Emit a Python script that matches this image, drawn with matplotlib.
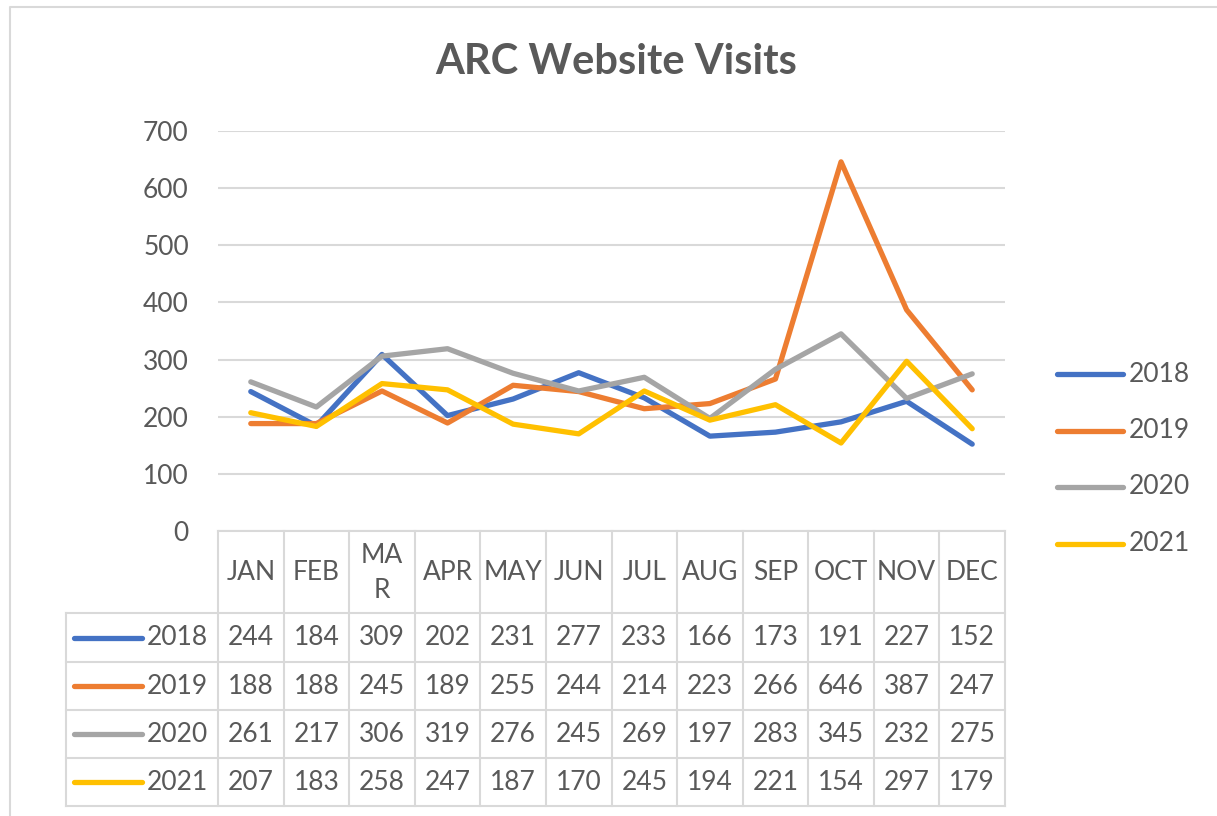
import matplotlib
matplotlib.use("Agg")
import matplotlib.pyplot as plt
from matplotlib.transforms import blended_transform_factory

months = ["JAN", "FEB", "MA\nR", "APR", "MAY", "JUN", "JUL", "AUG", "SEP", "OCT", "NOV", "DEC"]
years = ["2018", "2019", "2020", "2021"]
v2018 = [244, 184, 309, 202, 231, 277, 233, 166, 173, 191, 227, 152]
v2019 = [188, 188, 245, 189, 255, 244, 214, 223, 266, 646, 387, 247]
v2020 = [261, 217, 306, 319, 276, 245, 269, 197, 283, 345, 232, 275]
v2021 = [207, 183, 258, 247, 187, 170, 245, 194, 221, 154, 297, 179]
colors = ["#4472C4", "#ED7D31", "#A5A5A5", "#FFC000"]
series = [v2018, v2019, v2020, v2021]

W, H = 1217, 816
txt = "#595959"
grid_c = "#d9d9d9"
plt.rcParams['font.family'] = ['Lato', 'DejaVu Sans']

fig = plt.figure(figsize=(W / 100, H / 100), dpi=100)

# overlay in pixel coords for frame + table
ov = fig.add_axes([0, 0, 1, 1])
ov.set_xlim(0, W)
ov.set_ylim(H, 0)
ov.axis("off")

# plot area
ax_l, ax_r, ax_t, ax_b = 218, 1005, 131, 531
ax = fig.add_axes([ax_l / W, 1 - ax_b / H, (ax_r - ax_l) / W, (ax_b - ax_t) / H])
ax.set_xlim(-0.5, len(months) - 0.5)
ax.set_ylim(0, 700)
ax.set_yticks(range(0, 701, 100))
ax.set_xticks([])
for s in ax.spines.values():
    s.set_visible(False)
ax.yaxis.grid(True, color=grid_c, linewidth=1.5)
ax.set_axisbelow(True)
ax.tick_params(axis="y", length=0, pad=21, labelsize=19, labelcolor=txt)
ax.patch.set_alpha(0)

x = list(range(len(months)))
for vals, c, yr in zip(series, colors, years):
    ax.plot(x, vals, color=c, linewidth=3.8, solid_capstyle="round",
            solid_joinstyle="round", label=yr)

# chart frame
ov.plot([10, 10, W + 5], [H + 5, 7, 7], color=grid_c, linewidth=1.5)

fig.text(616 / W, 1 - 62 / H, "ARC Website Visits", ha="center", va="center",
         fontsize=30, fontweight="bold", color=txt)

# right legend
for i, (yr, c) in enumerate(zip(years, colors)):
    yy = 374 + i * 56.5
    ov.plot([1057, 1123], [yy, yy], color=c, linewidth=3.8, solid_capstyle="round")
    ov.text(1129, yy, yr, ha="left", va="center", fontsize=19, color=txt)

# data table
tr = blended_transform_factory(ax.transData, ov.transData)
lw = 1.5
head_top, head_bot = 531, 613
row_edges = [613, 662, 710, 758, 806]
n = len(months)
# horizontal lines
ov.plot([-0.5, n - 0.5], [head_top, head_top], color=grid_c, lw=lw, transform=tr)
for ye in row_edges:
    ov.plot([66, ax_r], [ye, ye], color=grid_c, lw=lw)
# vertical lines
ov.plot([66, 66], [row_edges[0], row_edges[-1]], color=grid_c, lw=lw)
for k in range(n + 1):
    ov.plot([k - 0.5, k - 0.5], [head_top, row_edges[-1]], color=grid_c, lw=lw, transform=tr)
# header labels
for k, m in enumerate(months):
    ov.text(k, (head_top + head_bot) / 2 + 1, m, ha="center", va="center",
            fontsize=19, color=txt, transform=tr, linespacing=1.5)
# rows
for r, (vals, c, yr) in enumerate(zip(series, colors, years)):
    yc = (row_edges[r] + row_edges[r + 1]) / 2
    ov.plot([74, 142], [yc, yc], color=c, linewidth=3.8, solid_capstyle="round")
    ov.text(208, yc, yr, ha="right", va="center", fontsize=19, color=txt)
    for k, v in enumerate(vals):
        ov.text(k, yc, str(v), ha="center", va="center", fontsize=19,
                color=txt, transform=tr)

fig.savefig("out.png", dpi=100)
